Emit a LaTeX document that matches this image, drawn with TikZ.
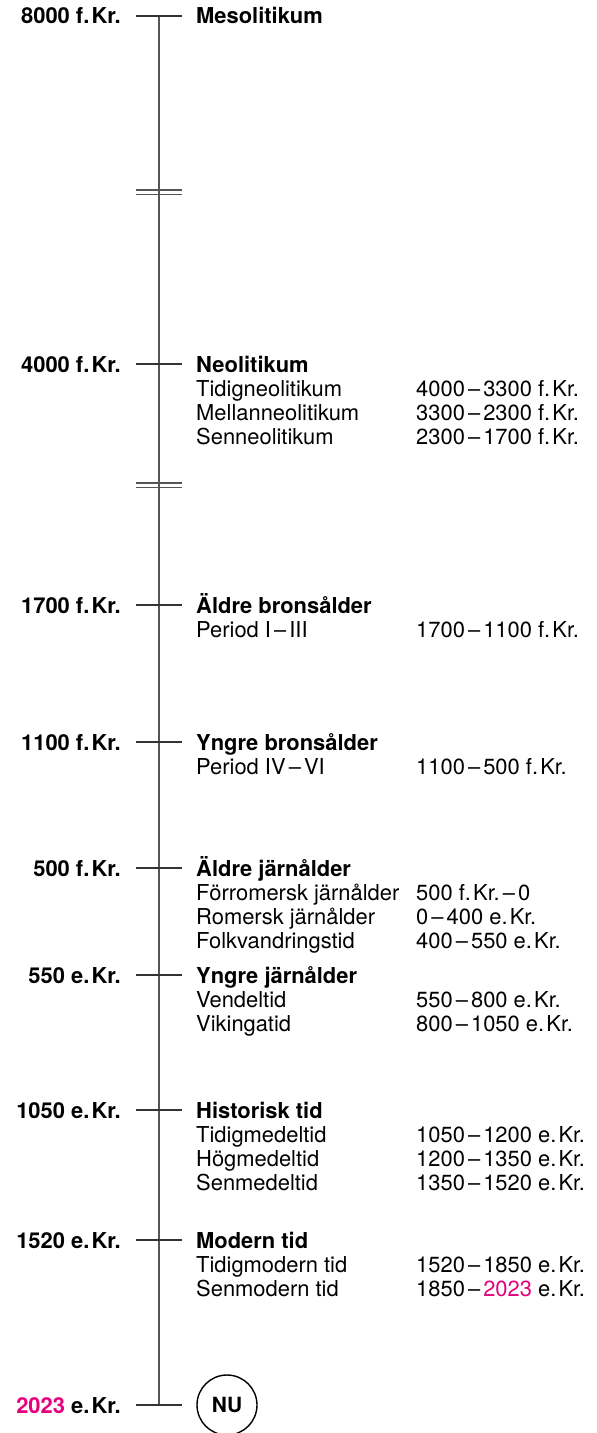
\documentclass[tikz,border=0pt]{standalone}
\usepackage{fontspec}
\setmainfont{TeX Gyre Heros}
\definecolor{mag}{HTML}{E5007D}
\definecolor{axisgrey}{HTML}{555555}
\newcommand{\tdash}{\kern0.14em–\kern0.14em}
\newcommand{\fKr}{f.\kern0.1em Kr.}
\newcommand{\eKr}{e.\kern0.1em Kr.}
\begin{document}
\begin{tikzpicture}[x=1bp,y=-1bp,
  year/.style={anchor=base east, font=\fontsize{22}{26}\selectfont\bfseries, inner sep=0pt},
  head/.style={anchor=base west, font=\fontsize{22}{26}\selectfont\bfseries, inner sep=0pt},
  sub/.style={anchor=base west, font=\fontsize{22}{26}\selectfont, inner sep=0pt},
  tickline/.style={line width=1.2bp, draw=black!80},
  axisline/.style={line width=2bp, draw=axisgrey},
  brk/.style={line width=1.5bp, draw=axisgrey},
  nucircle/.style={circle, draw=black, line width=1.4bp, minimum size=60bp, inner sep=0pt, font=\fontsize{21}{25}\selectfont\bfseries}]
\useasboundingbox (0,0) rectangle (597,1433);

% axis
\coordinate (top) at (159,16);
\coordinate (bottom) at (159,1405);
\draw[axisline] (top) -- (bottom);

% breaks
\coordinate (b1al) at (136,190); \coordinate (b1ar) at (182,190);
\coordinate (b1bl) at (136,194.5); \coordinate (b1br) at (182,194.5);
\coordinate (b2al) at (136,483); \coordinate (b2ar) at (182,483);
\coordinate (b2bl) at (136,487.5); \coordinate (b2br) at (182,487.5);
\draw[brk] (b1al) -- (b1ar);
\draw[brk] (b1bl) -- (b1br);
\draw[brk] (b2al) -- (b2ar);
\draw[brk] (b2bl) -- (b2br);

% ticks
\foreach \n/\y in {a/16,b/364,c/605,d/742,e/868,f/975,g/1110,h/1240,i/1405}{
  \coordinate (tl\n) at (136,\y);
  \coordinate (tr\n) at (182,\y);
  \draw[tickline] (tl\n) -- (tr\n);
}

% 8000
\node[year] (ya) at (121,24) {8000 \fKr};
\node[head] (ha) at (196,24) {Mesolitikum};

% 4000
\node[year] (yb) at (121,372) {4000 \fKr};
\node[head] (hb) at (196,372) {Neolitikum};
\node[sub] (sb1) at (196,396) {Tidigneolitikum};
\node[sub] (db1) at (416,396) {4000\tdash 3300 \fKr};
\node[sub] (sb2) at (196,420) {Mellanneolitikum};
\node[sub] (db2) at (416,420) {3300\tdash 2300 \fKr};
\node[sub] (sb3) at (196,444) {Senneolitikum};
\node[sub] (db3) at (416,444) {2300\tdash 1700 \fKr};

% 1700
\node[year] (yc) at (121,613) {1700 \fKr};
\node[head] (hc) at (196,613) {Äldre bronsålder};
\node[sub] (sc1) at (196,637) {Period I\tdash III};
\node[sub] (dc1) at (416,637) {1700\tdash 1100 \fKr};

% 1100
\node[year] (yd) at (121,750) {1100 \fKr};
\node[head] (hd) at (196,750) {Yngre bronsålder};
\node[sub] (sd1) at (196,774) {Period IV\tdash VI};
\node[sub] (dd1) at (416,774) {1100\tdash 500 \fKr};

% 500
\node[year] (ye) at (121,876) {500 \fKr};
\node[head] (he) at (196,876) {Äldre järnålder};
\node[sub] (se1) at (196,900) {Förromersk järnålder};
\node[sub] (de1) at (416,900) {500 \fKr\tdash 0};
\node[sub] (se2) at (196,924) {Romersk järnålder};
\node[sub] (de2) at (416,924) {0\tdash 400 \eKr};
\node[sub] (se3) at (196,948) {Folkvandringstid};
\node[sub] (de3) at (416,948) {400\tdash 550 \eKr};

% 550
\node[year] (yf) at (121,983) {550 \eKr};
\node[head] (hf) at (196,983) {Yngre järnålder};
\node[sub] (sf1) at (196,1007) {Vendeltid};
\node[sub] (df1) at (416,1007) {550\tdash 800 \eKr};
\node[sub] (sf2) at (196,1031) {Vikingatid};
\node[sub] (df2) at (416,1031) {800\tdash 1050 \eKr};

% 1050
\node[year] (yg) at (121,1118) {1050 \eKr};
\node[head] (hg) at (196,1118) {Historisk tid};
\node[sub] (sg1) at (196,1142) {Tidigmedeltid};
\node[sub] (dg1) at (416,1142) {1050\tdash 1200 \eKr};
\node[sub] (sg2) at (196,1166) {Högmedeltid};
\node[sub] (dg2) at (416,1166) {1200\tdash 1350 \eKr};
\node[sub] (sg3) at (196,1190) {Senmedeltid};
\node[sub] (dg3) at (416,1190) {1350\tdash 1520 \eKr};

% 1520
\node[year] (yh) at (121,1248) {1520 \eKr};
\node[head] (hh) at (196,1248) {Modern tid};
\node[sub] (sh1) at (196,1272) {Tidigmodern tid};
\node[sub] (dh1) at (416,1272) {1520\tdash 1850 \eKr};
\node[sub] (sh2) at (196,1296) {Senmodern tid};
\node[sub] (dh2) at (416,1296) {1850\tdash {\color{mag}2023} \eKr};

% 2023
\node[year] (yi) at (121,1413) {{\color{mag}2023} \eKr};
\node[nucircle] (nu) at (227,1405) {NU};
\end{tikzpicture}
\end{document}
